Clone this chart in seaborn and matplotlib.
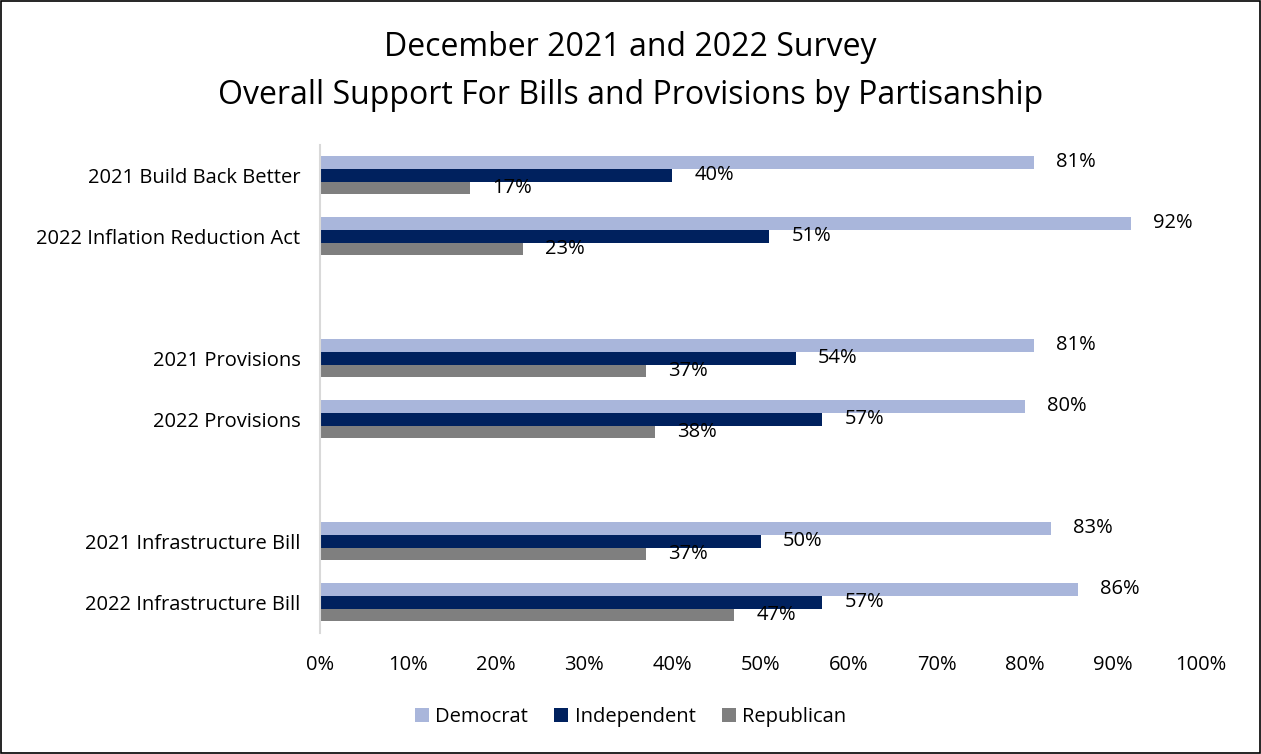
import matplotlib
matplotlib.use("Agg")
import matplotlib.pyplot as plt
import seaborn as sns
import pandas as pd
from matplotlib.patches import Rectangle

categories = ["2021 Build Back Better", "2022 Inflation Reduction Act",
              "2021 Provisions", "2022 Provisions",
              "2021 Infrastructure Bill", "2022 Infrastructure Bill"]
democrat = [81, 92, 81, 80, 83, 86]
independent = [40, 51, 54, 57, 50, 57]
republican = [17, 23, 37, 38, 37, 47]
series = ["Democrat", "Independent", "Republican"]
colors = ["#A9B6DB", "#00215E", "#7F7F7F"]
xticks = [0, 10, 20, 30, 40, 50, 60, 70, 80, 90, 100]

rows = []
for c, d, i, r in zip(categories, democrat, independent, republican):
    rows.append((c, "Democrat", d))
    rows.append((c, "Independent", i))
    rows.append((c, "Republican", r))
df = pd.DataFrame(rows, columns=["category", "party", "value"])

order = [categories[0], categories[1], " ", categories[2], categories[3], "  ",
         categories[4], categories[5]]

sns.set_theme(style="white")
plt.rcParams["font.family"] = ["Open Sans", "DejaVu Sans"]
plt.rcParams["text.color"] = "black"
plt.rcParams["xtick.color"] = "black"
plt.rcParams["ytick.color"] = "black"

fig = plt.figure(figsize=(12.61, 7.54), dpi=100)
ax = fig.add_axes([0.2538, 0.161, 0.6986, 0.6472])

sns.barplot(data=df, y="category", x="value", hue="party", order=order,
            hue_order=series, palette=colors, width=0.63, orient="h",
            saturation=1, linewidth=0, ax=ax, legend=True)

for cont in ax.containers:
    ax.bar_label(cont, labels=[f"{v:.0f}%" if v == v else "" for v in cont.datavalues],
                 padding=16, fontsize=14.5, color="black")

ax.set_xlim(0, 100)
ax.set_ylim(7.5, -0.5)
ax.set_xticks(xticks)
ax.set_xticklabels([f"{t}%" for t in xticks], fontsize=14.5)
ax.tick_params(axis="x", pad=16, length=0)
ax.tick_params(axis="y", pad=14, length=0, labelsize=14.5)
ax.set_xlabel("")
ax.set_ylabel("")
for s in ["top", "right", "bottom"]:
    ax.spines[s].set_visible(False)
ax.spines["left"].set_color("#D9D9D9")
ax.spines["left"].set_linewidth(1.5)

ax.legend(loc="lower center", bbox_to_anchor=(0.5, 0.012), bbox_transform=fig.transFigure,
          ncol=3, frameon=False, fontsize=14.5, handlelength=0.7, handleheight=0.7,
          handletextpad=0.3, columnspacing=1.3)

fig.text(0.5, 0.937, "December 2021 and 2022 Survey", ha="center", va="center", fontsize=23)
fig.text(0.5, 0.874, "Overall Support For Bills and Provisions by Partisanship",
         ha="center", va="center", fontsize=23)

fig.patches.append(Rectangle((0.001, 0.001), 0.998, 0.998, transform=fig.transFigure,
                             fill=False, edgecolor="black", linewidth=1.2))

fig.savefig("out.png", dpi=100, facecolor="white")
